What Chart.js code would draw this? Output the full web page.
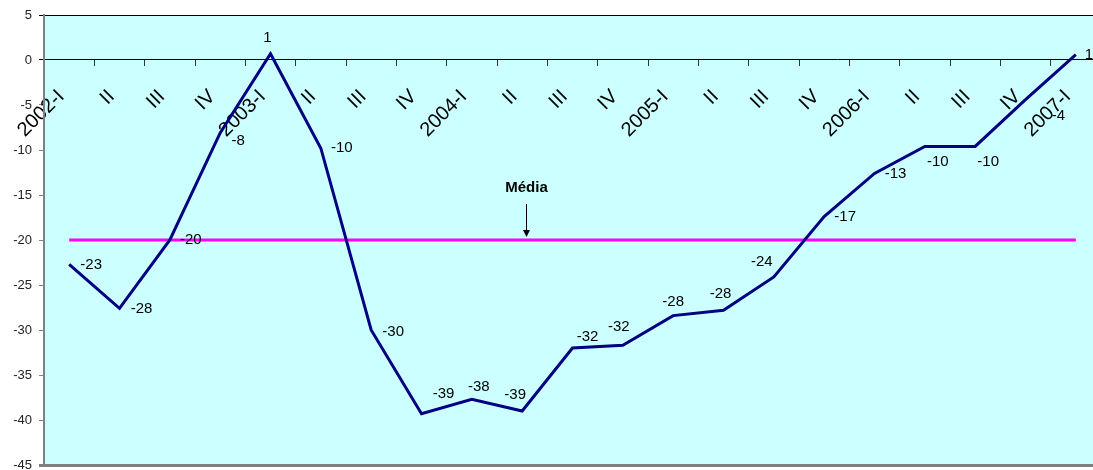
<!DOCTYPE html>
<html>
<head>
<meta charset="utf-8">
<script src="https://cdn.jsdelivr.net/npm/chart.js@4.4.1/dist/chart.umd.min.js"></script>
<style>
  html, body { margin: 0; padding: 0; background: #ffffff; }
  #wrap { width: 1093px; height: 470px; overflow: hidden; position: relative; }
  canvas { display: block; }
</style>
</head>
<body>
<div id="wrap"><canvas id="c" width="1101" height="470"></canvas></div>
<script>
// ---- data ----
const categories = ['2002-I','II','III','IV','2003-I','II','III','IV','2004-I','II','III','IV',
                    '2005-I','II','III','IV','2006-I','II','III','IV','2007-I'];
const seriesValues = [-22.7, -27.6, -20.0, -8.1, 0.7, -9.8, -30.0, -39.3, -37.7, -39.0, -32.0,
                      -31.7, -28.4, -27.8, -24.1, -17.4, -12.6, -9.6, -9.6, -4.4, 0.6];
const meanValue = -20;
const meanSeries = [-20, -20, -20, -20, -20, -20, -20, -20, -20, -20, -20,
                    -20, -20, -20, -20, -20, -20, -20, -20, -20, -20];
const yTicks = { min: -45, max: 5, step: 5 };
const meanLabel = 'Média';

// ---- label placement (offsets of each data label from its point) ----
const labelDx = [22, 22, 21, 18, -3, 21, 22, 22, 7, -7, 15, -4, 0, -3, -12, 21, 21, 13, 13, 33, 13];
const labelDy = [1, 0, 0, 8, -16, 0, 2, -20, -12, -16, -11, -18, -14, -16, -15, 0, 0, 15, 15, 16, 0];

const bgPlugin = {
  id: 'bg',
  beforeDraw(chart) {
    const {ctx, chartArea: a} = chart;
    ctx.save();
    ctx.fillStyle = '#CCFFFF';
    ctx.fillRect(a.left, a.top, a.right - a.left, a.bottom - a.top);
    ctx.restore();
  }
};

const labelsPlugin = {
  id: 'dlabels',
  afterDatasetsDraw(chart) {
    const {ctx} = chart;
    const meta = chart.getDatasetMeta(1);
    ctx.save();
    ctx.fillStyle = '#000';
    ctx.font = '15px "Liberation Sans", Arial, sans-serif';
    ctx.textAlign = 'center';
    ctx.textBaseline = 'middle';
    meta.data.forEach((pt, i) => {
      const txt = String(Math.round(seriesValues[i]));
      ctx.fillText(txt, pt.x + labelDx[i], pt.y + labelDy[i]);
    });
    // "Média" annotation with arrow
    const xs = chart.scales.x, ys = chart.scales.y;
    const ax = Math.round(xs.getPixelForValue(9)) + 4.5;
    const ay = ys.getPixelForValue(meanValue);
    ctx.font = 'bold 15px "Liberation Sans", Arial, sans-serif';
    ctx.fillText(meanLabel, ax, ay - 52);
    ctx.strokeStyle = '#000';
    ctx.lineWidth = 1;
    ctx.beginPath();
    ctx.moveTo(ax, ay - 36);
    ctx.lineTo(ax, ay - 8);
    ctx.stroke();
    ctx.beginPath();
    ctx.moveTo(ax - 3.5, ay - 10);
    ctx.lineTo(ax + 3.5, ay - 10);
    ctx.lineTo(ax, ay - 3);
    ctx.closePath();
    ctx.fill();
    ctx.restore();
  }
};

new Chart(document.getElementById('c'), {
  type: 'line',
  data: {
    labels: categories,
    datasets: [
      {
        data: meanSeries,
        borderColor: '#FF00FF',
        borderWidth: 3,
        pointRadius: 0,
        tension: 0,
        order: 2
      },
      {
        data: seriesValues,
        borderColor: '#000080',
        borderWidth: 3,
        pointRadius: 0,
        tension: 0,
        order: 1
      }
    ]
  },
  options: {
    responsive: false,
    animation: false,
    devicePixelRatio: 1,
    layout: { padding: { top: 15, bottom: 5, left: 0, right: 0 } },
    plugins: { legend: { display: false }, tooltip: { enabled: false } },
    scales: {
      x: {
        type: 'category',
        position: { y: 0 },
        offset: true,
        border: { display: true, color: '#000', width: 1 },
        grid: {
          offset: true,
          drawOnChartArea: false,
          drawTicks: true,
          tickLength: 6,
          tickColor: '#333',
          lineWidth: 1
        },
        ticks: {
          autoSkip: false,
          minRotation: 45,
          maxRotation: 45,
          padding: 19,
          labelOffset: -8,
          color: '#000',
          font: { family: '"Liberation Sans", Arial, sans-serif', size: 20 }
        },
        afterFit(s) { s.paddingLeft = 0; s.paddingRight = 0; }
      },
      y: {
        position: 'left',
        min: yTicks.min,
        max: yTicks.max,
        border: { display: true, color: '#808080', width: 2 },
        grid: {
          drawOnChartArea: true,
          drawTicks: true,
          tickLength: 5,
          color: (c) => c.tick && c.tick.value === yTicks.max ? '#000' :
                        (c.tick && c.tick.value === yTicks.min ? '#808080' : 'rgba(0,0,0,0)'),
          lineWidth: (c) => c.tick && c.tick.value === yTicks.min ? 3 : 1,
          tickColor: (c) => c.tick && (c.tick.value === 0 || c.tick.value === yTicks.max) ? '#000' : '#808080'
        },
        ticks: {
          stepSize: yTicks.step,
          padding: 7,
          color: '#222',
          font: { family: '"Liberation Sans", Arial, sans-serif', size: 13 }
        },
        afterFit(s) { s.width = 44; s.paddingTop = 0; s.paddingBottom = 0; }
      }
    }
  },
  plugins: [bgPlugin, labelsPlugin]
});
</script>
</body>
</html>
